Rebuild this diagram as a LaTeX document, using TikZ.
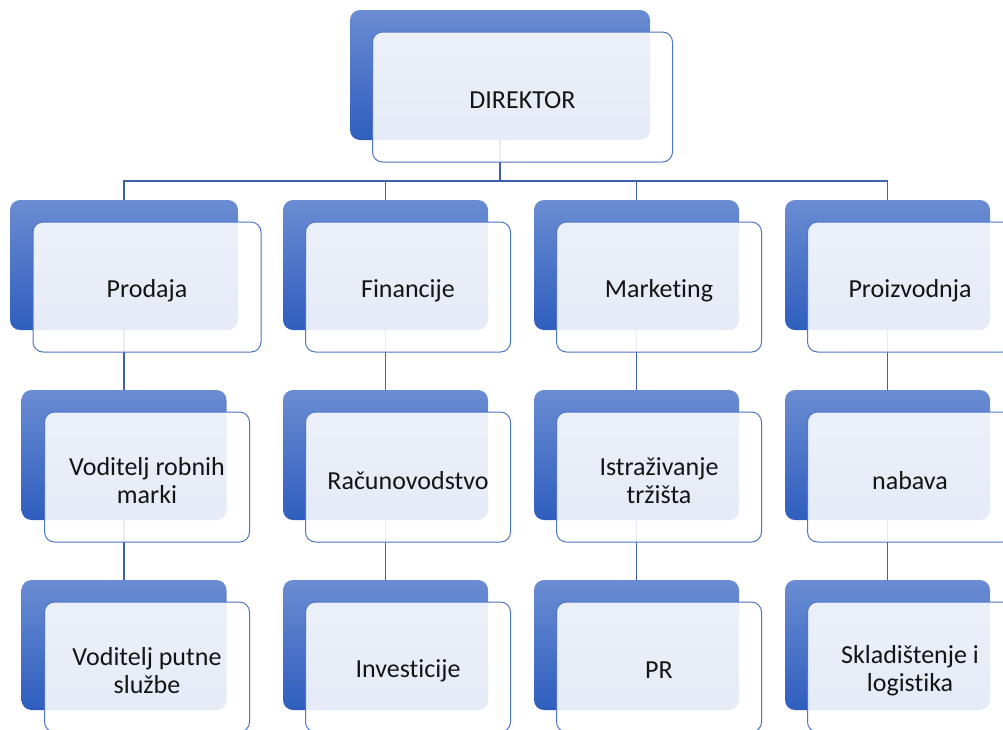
\documentclass[tikz,border=0pt]{standalone}
\usepackage{fontspec}
\setmainfont{Carlito}[Ligatures=NoCommon]
\definecolor{bt}{RGB}{106,140,210}
\definecolor{bb}{RGB}{47,94,190}
\definecolor{fb}{RGB}{78,118,200}
\definecolor{conncol}{RGB}{62,96,170}
\begin{document}
\begin{tikzpicture}[x=1pt,y=-1pt,
  backbox/.style={rounded corners=10pt, top color=bt, bottom color=bb, draw=none,
    minimum height=130pt, minimum width=205pt, inner sep=0pt},
  frontbox/.style={rounded corners=10pt, draw=fb, line width=1pt, fill=white,
    fill opacity=0.88, minimum height=130pt, minimum width=205pt, inner sep=0pt},
  boxtext/.style={text opacity=1, fill opacity=1, inner sep=0pt, align=center,
    font=\fontsize{26}{28.5}\selectfont, text=black!92, yshift=-3.5pt},
  connline/.style={draw=conncol, line width=1.2pt}]
\clip (0,0) rectangle (1003,729);
% back boxes
\node[backbox, minimum width=300pt] (bD) at (500,75) {};
\node[backbox, minimum width=228pt] (b11) at (124,265) {};
\node[backbox] (b12) at (385.5,265) {};
\node[backbox] (b13) at (636.5,265) {};
\node[backbox] (b14) at (887.5,265) {};
\node[backbox] (b21) at (124,455) {};
\node[backbox] (b22) at (385.5,455) {};
\node[backbox] (b23) at (636.5,455) {};
\node[backbox] (b24) at (887.5,455) {};
\node[backbox] (b31) at (124,645) {};
\node[backbox] (b32) at (385.5,645) {};
\node[backbox] (b33) at (636.5,645) {};
\node[backbox] (b34) at (887.5,645) {};
% connectors
\coordinate (hub) at (500,181);
\draw[connline] (bD.south) -- (hub);
\draw[connline] (b11.north) -- (b11.north |- hub) -- (b14.north |- hub) -- (b14.north);
\draw[connline] (b12.north) -- (b12.north |- hub);
\draw[connline] (b13.north) -- (b13.north |- hub);
\draw[connline] (b11.south) -- (b21.north);
\draw[connline] (b12.south) -- (b22.north);
\draw[connline] (b13.south) -- (b23.north);
\draw[connline] (b14.south) -- (b24.north);
\draw[connline] (b21.south) -- (b31.north);
\draw[connline] (b22.south) -- (b32.north);
\draw[connline] (b23.south) -- (b33.north);
\draw[connline] (b24.south) -- (b34.north);
% front boxes
\node[frontbox, minimum width=300pt, label={[boxtext]center:DIREKTOR}] (fD) at (522.5,97) {};
\node[frontbox, minimum width=228pt, label={[boxtext]center:Prodaja}] (f11) at (147,287) {};
\node[frontbox, label={[boxtext]center:Financije}] (f12) at (408,287) {};
\node[frontbox, label={[boxtext]center:Marketing}] (f13) at (659,287) {};
\node[frontbox, label={[boxtext]center:Proizvodnja}] (f14) at (910,287) {};
\node[frontbox, label={[boxtext]center:{Voditelj robnih\\marki}}] (f21) at (147,477) {};
\node[frontbox, label={[boxtext]center:Računovodstvo}] (f22) at (408,477) {};
\node[frontbox, label={[boxtext]center:{Istraživanje\\tržišta}}] (f23) at (659,477) {};
\node[frontbox, label={[boxtext]center:nabava}] (f24) at (910,477) {};
\node[frontbox, label={[boxtext]center:{Voditelj putne\\službe}}] (f31) at (147,667) {};
\node[frontbox, label={[boxtext]center:Investicije}] (f32) at (408,667) {};
\node[frontbox, label={[boxtext]center:PR}] (f33) at (659,667) {};
\node[frontbox, label={[boxtext]center:{Skladištenje i\\logistika}}] (f34) at (910,667) {};
\end{tikzpicture}
\end{document}
